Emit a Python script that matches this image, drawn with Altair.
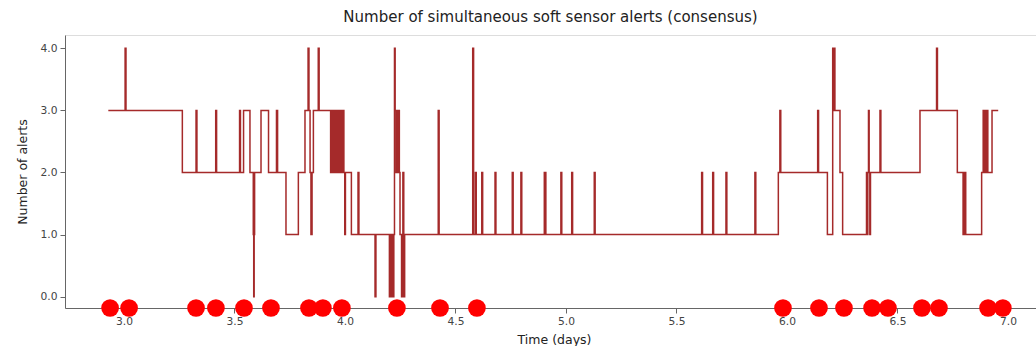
import altair as alt
import pandas as pd

# Step series: time (days) at which the alert count changes, and the new count
times = [
    2.929, 3.005, 3.009, 3.264, 3.326, 3.330, 3.415, 3.419, 3.523, 3.527,
    3.541, 3.570, 3.585, 3.587, 3.589, 3.591, 3.620, 3.654, 3.690, 3.695,
    3.733, 3.789, 3.819, 3.833, 3.837, 3.842, 3.846, 3.851, 3.857, 3.879,
    3.883, 3.935, 3.938, 3.941, 3.944, 3.947, 3.950, 3.953, 3.956, 3.959,
    3.962, 3.965, 3.968, 3.971, 3.974, 3.977, 3.980, 3.983, 3.986, 3.989,
    3.992, 3.995, 3.999, 4.002, 4.029, 4.059, 4.063, 4.136, 4.140, 4.201,
    4.205, 4.209, 4.213, 4.217, 4.221, 4.224, 4.227, 4.231, 4.235, 4.239,
    4.243, 4.246, 4.249, 4.256, 4.262, 4.266, 4.270, 4.422, 4.426, 4.578,
    4.582, 4.590, 4.594, 4.619, 4.623, 4.679, 4.683, 4.757, 4.761, 4.796,
    4.800, 4.902, 4.905, 4.907, 4.909, 4.977, 4.981, 5.026, 5.030, 5.128,
    5.132, 5.614, 5.618, 5.664, 5.668, 5.724, 5.728, 5.855, 5.859, 5.961,
    5.968, 5.972, 6.139, 6.143, 6.183, 6.207, 6.210, 6.213, 6.217, 6.240,
    6.252, 6.360, 6.363, 6.366, 6.369, 6.372, 6.375, 6.378, 6.421, 6.425,
    6.602, 6.677, 6.681, 6.771, 6.797, 6.800, 6.803, 6.806, 6.809, 6.881,
    6.888, 6.891, 6.894, 6.897, 6.900, 6.903, 6.906, 6.909, 6.928, 6.956,
]
alerts = [
    3, 4, 3, 2, 3, 2, 3, 2, 3, 2,
    3, 2, 1, 0, 1, 2, 3, 2, 3, 2,
    1, 2, 3, 4, 3, 2, 1, 2, 3, 4,
    3, 2, 3, 2, 3, 2, 3, 2, 3, 2,
    3, 2, 3, 2, 3, 2, 3, 2, 3, 2,
    3, 2, 1, 2, 1, 2, 1, 0, 1, 0,
    1, 0, 1, 0, 1, 4, 3, 2, 3, 2,
    3, 2, 1, 0, 2, 0, 1, 3, 1, 4,
    1, 2, 1, 2, 1, 2, 1, 2, 1, 2,
    1, 2, 1, 2, 1, 2, 1, 2, 1, 2,
    1, 2, 1, 2, 1, 2, 1, 2, 1, 2,
    3, 2, 3, 2, 1, 4, 3, 4, 3, 2,
    1, 2, 1, 2, 3, 2, 1, 2, 3, 2,
    3, 4, 3, 2, 1, 2, 1, 2, 1, 2,
    3, 2, 3, 2, 3, 2, 3, 2, 3, 3,
]

# Consensus alert events marked along the time axis
event_times = [
    2.937, 3.023, 3.326, 3.416, 3.543, 3.665, 3.837, 3.900, 3.986, 4.235,
    4.430, 4.597, 5.982, 6.145, 6.258, 6.385, 6.457, 6.611, 6.688, 6.910,
    6.977,
]
event_level = -0.182

x_ticks = [3.0, 3.5, 4.0, 4.5, 5.0, 5.5, 6.0, 6.5, 7.0]
y_ticks = [0.0, 0.5, 1.0, 1.5, 2.0, 2.5, 3.0, 3.5, 4.0]

series = pd.DataFrame({"t": times, "n": alerts})
events = pd.DataFrame({"t": event_times, "n": [event_level] * len(event_times)})

FONT = "DejaVu Sans"
x_scale = alt.Scale(domain=[2.733, 7.127], nice=False, zero=False)
y_scale = alt.Scale(domain=[-0.182, 4.214], nice=False, zero=False)

x_axis = alt.Axis(
    values=x_ticks, format=".1f", grid=False, title="Time (days)",
    titleX=489, titleY=31, titleBaseline="middle", titleAlign="center",
    tickSize=5, labelPadding=3, labelFontSize=10.7, titleFontSize=12.5,
    labelColor="#444444", titleColor="#222222", domainColor="#666666",
    tickColor="#666666", labelFont=FONT, titleFont=FONT, titleFontWeight="normal",
)
y_axis = alt.Axis(
    values=y_ticks, format=".1f", grid=False, title="Number of alerts",
    titleX=-42.5, titleY=136.5, titleAngle=-90, titleBaseline="middle",
    titleAlign="center", tickSize=5, labelPadding=3, labelFontSize=10.7,
    titleFontSize=12.5, labelColor="#444444", titleColor="#222222",
    domainColor="#666666", tickColor="#666666", labelFont=FONT, titleFont=FONT,
    titleFontWeight="normal",
)

line = alt.Chart(series).mark_line(
    interpolate="step-after", color="#a52a2a", strokeWidth=1.5
).encode(
    x=alt.X("t:Q", scale=x_scale, axis=x_axis),
    y=alt.Y("n:Q", scale=y_scale, axis=y_axis),
)

dots = alt.Chart(events).mark_circle(color="#ff0000", opacity=1, size=314).encode(
    x=alt.X("t:Q", scale=x_scale),
    y=alt.Y("n:Q", scale=y_scale),
)

chart = (
    alt.layer(line, dots)
    .properties(
        width=971,
        height=273,
        autosize=alt.AutoSizeParams(type="none"),
        padding={"left": 65, "top": 35, "right": 0, "bottom": 38},
        title=alt.TitleParams(
            "Number of simultaneous soft sensor alerts (consensus)",
            anchor="middle", fontSize=15, font=FONT, fontWeight="normal",
            color="#222222", offset=10,
        ),
    )
    .configure_view(stroke=None)
    .configure(background="white")
)

chart.save("out.html", embed_options={"renderer": "svg", "actions": False})
